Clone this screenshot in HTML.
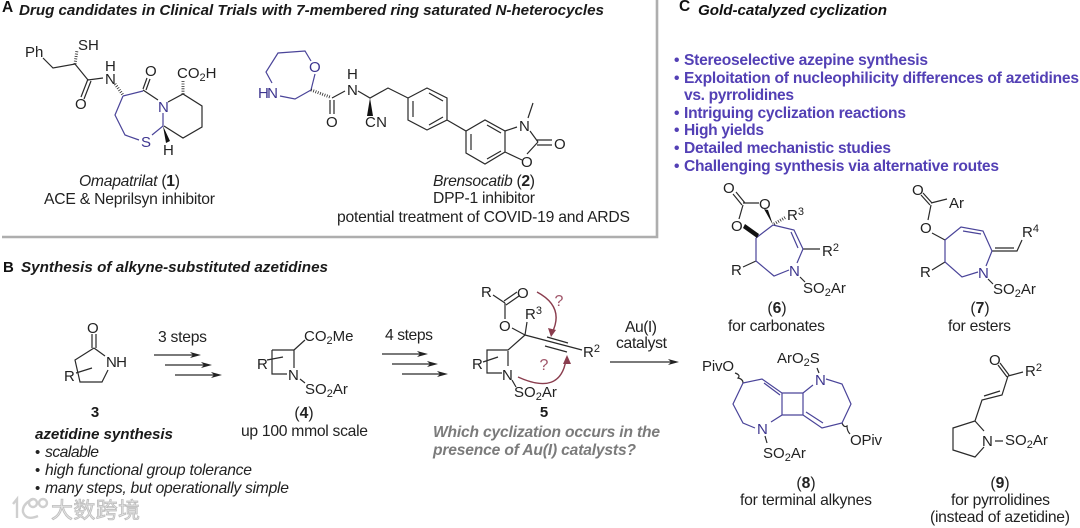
<!DOCTYPE html>
<html><head><meta charset="utf-8"><style>
html,body{margin:0;padding:0;background:#fff}
svg{display:block}
text{font-family:"Liberation Sans",sans-serif;font-size:15px;fill:#222}
.l{font-size:15.7px}
.c{text-anchor:middle}
.bi{font-weight:bold;font-style:italic;font-size:15.2px;fill:#1a1a1a}
.b{font-weight:bold;font-size:15px;fill:#1a1a1a}
.p{font-weight:bold;font-size:15.6px;fill:#5340b5}
.g{font-weight:bold;font-style:italic;font-size:15.6px;fill:#7b7b7b}
.u{fill:#3d358f}
.k{stroke:#2a2a2a;stroke-width:1.2;fill:none}
.v{stroke:#4a4499;stroke-width:1.2;fill:none}
.r{stroke:#8a3d4e;stroke-width:1.4;fill:none}
.q{fill:#a0566a;font-size:16px}
.h{stroke:#2a2a2a;stroke-width:3;stroke-dasharray:.8 1.6;fill:none}
.s{font-size:11px}
</style></head><body>
<svg width="1080" height="528" viewBox="0 0 1080 528" xmlns="http://www.w3.org/2000/svg">
<!-- panel A frame -->
<path d="M2 237H657V0" fill="none" stroke="#aeaeae" stroke-width="2.6"/>

<!-- titles -->
<text x="2" y="12" style="font-weight:bold;font-size:15.5px;fill:#111">A</text>
<text x="19" y="15" class="bi" textLength="585" lengthAdjust="spacing">Drug candidates in Clinical Trials with 7-membered ring saturated N-heterocycles</text>
<text x="3" y="272" style="font-weight:bold;font-size:15px;fill:#111">B</text>
<text x="21" y="272" class="bi" textLength="307" lengthAdjust="spacing">Synthesis of alkyne-substituted azetidines</text>
<text x="679" y="11" style="font-weight:bold;font-size:15.5px;fill:#111">C</text>
<text x="698" y="15" class="bi" textLength="189" lengthAdjust="spacing" style="fill:#111">Gold-catalyzed cyclization</text>

<!-- panel C bullets -->
<text x="674" y="65" class="p">•</text><text x="684" y="65" class="p" textLength="244" lengthAdjust="spacing">Stereoselective azepine synthesis</text>
<text x="674" y="83" class="p">•</text><text x="684" y="83" class="p" textLength="395" lengthAdjust="spacing">Exploitation of nucleophilicity differences of azetidines</text>
<text x="684" y="100" class="p" textLength="110" lengthAdjust="spacing">vs. pyrrolidines</text>
<text x="674" y="118" class="p">•</text><text x="684" y="118" class="p" textLength="222" lengthAdjust="spacing">Intriguing cyclization reactions</text>
<text x="674" y="135" class="p">•</text><text x="684" y="135" class="p" textLength="80" lengthAdjust="spacing">High yields</text>
<text x="674" y="153" class="p">•</text><text x="684" y="153" class="p" textLength="207" lengthAdjust="spacing">Detailed mechanistic studies</text>
<text x="674" y="171" class="p">•</text><text x="684" y="171" class="p" textLength="315" lengthAdjust="spacing">Challenging synthesis via alternative routes</text>

<!-- compound 1 -->
<text x="25" y="57">Ph</text>
<text x="78" y="50">SH</text>
<text x="75" y="109">O</text>
<text x="105" y="71">H</text>
<text x="105" y="84">N</text>
<text x="145" y="76">O</text>
<text x="177" y="78">CO<tspan dy="3" class="s">2</tspan><tspan dy="-3">H</tspan></text>
<text x="158" y="112" class="u">N</text>
<text x="141" y="147" class="u">S</text>
<text x="163" y="155">H</text>
<path class="k" d="M43 58L53 68L75 64L88 80L103 78M88 79L81 97M91 81L84 99M143 90L158 100M143 89L147 78M146 90L150 79M168 102L183 94L202 106V127L183 138L164 126"/>
<path class="v" d="M123 96L143 91M123 96L115 115L125 135L139 140M152 135L163 126V113"/>
<path d="M75 64L77 50" class="h"/>
<path d="M115 84L123 95" class="h"/>
<path d="M183 94V81" class="h"/>
<polygon points="163,126 166,143 170,141" fill="#111"/>
<text x="79" y="186" class="l" textLength="101" lengthAdjust="spacing"><tspan font-style="italic">Omapatrilat</tspan> (<tspan font-weight="bold">1</tspan>)</text>
<text x="44" y="204" class="l" textLength="171" lengthAdjust="spacing">ACE &amp; Neprilsyn inhibitor</text>

<!-- compound 2 -->
<text x="309" y="72" class="u">O</text>
<text x="258" y="98" class="u" textLength="20" lengthAdjust="spacing">HN</text>
<path class="v" d="M311 61L305 51L278 53L266 72L272 83M280 96L295 99L311 90L315 74"/>
<path d="M311 90L330 97" class="h"/>
<path class="k" d="M332 98L345 91M330 100V114M334 100V114M358 91L370 98L388 88L408 98M408 98L427 88L447 98V120L427 130L408 120V98M413 101V117M429 93L443 101M429 125L443 117M447 120L466 131L485 120L505 131V152L485 164L466 153V131M471 134V150M487 125L501 133M487 159L501 151M505 131L517 127M528 118L533 103M530 131L538 142M538 142L527 154M522 160L505 152M537 140H552M537 145H552"/>
<polygon points="370,98 367,116 373,116" fill="#111"/>
<text x="347" y="79">H</text>
<text x="347" y="95">N</text>
<text x="326" y="127">O</text>
<text x="365" y="127" textLength="22" lengthAdjust="spacing">CN</text>
<text x="519" y="131">N</text>
<text x="521" y="167">O</text>
<text x="554" y="149">O</text>
<text x="433" y="186" class="l" textLength="102" lengthAdjust="spacing"><tspan font-style="italic">Brensocatib</tspan> (<tspan font-weight="bold">2</tspan>)</text>
<text x="433" y="203" class="l" textLength="102" lengthAdjust="spacing">DPP-1 inhibitor</text>
<text x="337" y="222" class="l" textLength="293" lengthAdjust="spacing">potential treatment of COVID-19 and ARDS</text>

<!-- compound 3 -->
<text x="87" y="333">O</text>
<text x="106" y="367" textLength="21" lengthAdjust="spacing">NH</text>
<text x="64" y="381">R</text>
<path class="k" d="M92 334V348M96 334V348M94 348L105 356M94 348L75 360L80 382H102L108 370M76 373L92 368"/>
<text x="95" y="417" class="b c">3</text>

<!-- arrows 3 steps -->
<text x="158" y="342" class="l" textLength="49" lengthAdjust="spacing">3 steps</text>
<g class="k"><path d="M154 355H194M165 365H205M175 375H215"/></g>
<g fill="#222"><polygon points="201,355 190,352 193,355 190,358"/><polygon points="212,365 201,362 204,365 201,368"/><polygon points="222,375 211,372 214,375 211,378"/></g>

<!-- compound 4 -->
<text x="257" y="369">R</text>
<text x="304" y="341">CO<tspan dy="3" class="s">2</tspan><tspan dy="-3">Me</tspan></text>
<text x="288" y="380">N</text>
<text x="305" y="394">SO<tspan dy="3" class="s">2</tspan><tspan dy="-3">Ar</tspan></text>
<path class="k" d="M272 350H294V368M272 350V374H287M294 350L305 340M267 360L283 357M300 379L305 383"/>
<text x="304" y="418" class="c l"><tspan>(</tspan><tspan font-weight="bold">4</tspan><tspan>)</tspan></text>
<text x="241" y="436" class="l" textLength="127" lengthAdjust="spacing">up 100 mmol scale</text>

<!-- azetidine list -->
<text x="35" y="439" class="bi" textLength="138" lengthAdjust="spacing">azetidine synthesis</text>
<text x="35" y="457">•</text><text x="45" y="457" class="l" font-style="italic" textLength="54" lengthAdjust="spacing">scalable</text>
<text x="35" y="475">•</text><text x="45" y="475" class="l" font-style="italic" textLength="207" lengthAdjust="spacing">high functional group tolerance</text>
<text x="35" y="493">•</text><text x="45" y="493" class="l" font-style="italic" textLength="244" lengthAdjust="spacing">many steps, but operationally simple</text>

<!-- arrows 4 steps -->
<text x="385" y="340" class="l" textLength="48" lengthAdjust="spacing">4 steps</text>
<g class="k"><path d="M382 354H421M392 364H431M402 374H441"/></g>
<g fill="#222"><polygon points="428,354 417,351 420,354 417,357"/><polygon points="438,364 427,361 430,364 427,367"/><polygon points="448,374 437,371 440,374 437,377"/></g>

<!-- compound 5 -->
<text x="481" y="297">R</text>
<text x="517" y="298">O</text>
<text x="499" y="331">O</text>
<text x="525" y="319">R<tspan dy="-5" class="s">3</tspan></text>
<text x="583" y="357">R<tspan dy="-5" class="s">2</tspan></text>
<text x="472" y="369">R</text>
<text x="502" y="380">N</text>
<text x="514" y="397">SO<tspan dy="3" class="s">2</tspan><tspan dy="-3">Ar</tspan></text>
<text x="544" y="417" class="b c">5</text>
<path class="k" d="M493 295L505 303M504 301L517 292M506 305L519 296M505 303V319M512 328L525 335M527 322L525 335L582 350M547 337L568 343M545 346L567 352M525 335L508 350H487V373H502M508 351V366M483 362L498 357M512 380L516 387"/>
<path class="r" d="M537 292Q565 307 552 333M518 377Q560 396 566 360"/>
<polygon points="551,337 548,328 556,330" fill="#8a3d4e"/>
<polygon points="567,355 563,364 571,364" fill="#8a3d4e"/>
<text x="559" y="306" class="q c">?</text>
<text x="544" y="370" class="q c">?</text>

<text x="433" y="437" class="g" textLength="227" lengthAdjust="spacing">Which cyclization occurs in the</text>
<text x="433" y="455" class="g" textLength="203" lengthAdjust="spacing">presence of Au(I) catalysts?</text>

<!-- Au arrow -->
<text x="625" y="332" class="l" textLength="32" lengthAdjust="spacing">Au(I)</text>
<text x="616" y="348" class="l" textLength="51" lengthAdjust="spacing">catalyst</text>
<path class="k" d="M610 362H672"/>
<polygon points="679,362 668,359 671,362 668,365" fill="#222"/>

<!-- compound 6 -->
<text x="723" y="193">O</text>
<text x="759" y="209">O</text>
<text x="731" y="231">O</text>
<text x="787" y="220">R<tspan dy="-5" class="s">3</tspan></text>
<text x="822" y="256">R<tspan dy="-5" class="s">2</tspan></text>
<text x="731" y="275">R</text>
<text x="789" y="276" class="u">N</text>
<text x="803" y="293">SO<tspan dy="3" class="s">2</tspan><tspan dy="-3">Ar</tspan></text>
<path class="k" d="M733 194L742 205M736 192L745 203M743 203L759 203M743 205L739 219M803 249H820M743 267L756 261M800 277L805 282"/>
<path class="v" d="M773 225L794 230L803 249L797 263M789 270L774 276L756 261V238M773 225L756 238M791 232L798 248"/>
<polygon points="743,228 757,238 759,234 745,224" fill="#111"/>
<polygon points="764,209 773,225 768,210" fill="#111"/>
<path d="M774 224L786 217" class="h"/>
<text x="777" y="313" class="c l"><tspan>(</tspan><tspan font-weight="bold">6</tspan><tspan>)</tspan></text>
<text x="728" y="331" class="l" textLength="97" lengthAdjust="spacing">for carbonates</text>

<!-- compound 7 -->
<text x="912" y="195">O</text>
<text x="920" y="233">O</text>
<text x="949" y="208">Ar</text>
<text x="1022" y="237">R<tspan dy="-5" class="s">4</tspan></text>
<text x="920" y="277">R</text>
<text x="978" y="278" class="u">N</text>
<text x="993" y="294">SO<tspan dy="3" class="s">2</tspan><tspan dy="-3">Ar</tspan></text>
<path class="k" d="M921 195L930 205M923 193L932 203M931 203L947 199M931 205L928 220M932 233L945 240M992 251H1017L1022 240M995 248H1014M932 270L945 262M988 279L993 284"/>
<path class="v" d="M945 240L961 227L983 231L992 251L986 266M978 272L962 277L945 262V240M963 231L981 234"/>
<text x="980" y="313" class="c l"><tspan>(</tspan><tspan font-weight="bold">7</tspan><tspan>)</tspan></text>
<text x="948" y="331" class="l" textLength="63" lengthAdjust="spacing">for esters</text>

<!-- compound 8 -->
<text x="702" y="371" textLength="32" lengthAdjust="spacing">PivO</text>
<text x="777" y="363">ArO<tspan dy="3" class="s">2</tspan><tspan dy="-3">S</tspan></text>
<text x="815" y="385" class="u">N</text>
<text x="757" y="434" class="u">N</text>
<text x="763" y="458">SO<tspan dy="3" class="s">2</tspan><tspan dy="-3">Ar</tspan></text>
<text x="850" y="445" textLength="32" lengthAdjust="spacing">OPiv</text>
<path class="k" d="M735 373Q741 375 738 378Q743 379 743 383M842 423Q844 428 847 426Q847 431 850 434M817 368L819 373M765 436L767 443"/>
<path class="v" d="M743 383L762 379L782 393V415L771 422M755 428L743 423L733 404L743 383M764 383L780 395M782 393H803V415H782M803 393L813 385M826 379L842 384L851 404L842 423L822 428L803 415M806 412L823 423"/>
<text x="806" y="488" class="c l"><tspan>(</tspan><tspan font-weight="bold">8</tspan><tspan>)</tspan></text>
<text x="740" y="505" class="l" textLength="132" lengthAdjust="spacing">for terminal alkynes</text>

<!-- compound 9 -->
<text x="989" y="365">O</text>
<text x="1025" y="376">R<tspan dy="-5" class="s">2</tspan></text>
<text x="982" y="446">N</text>
<text x="1005" y="445">SO<tspan dy="3" class="s">2</tspan><tspan dy="-3">Ar</tspan></text>
<path class="k" d="M998 365L1007 377M1000 363L1009 375M1008 376L1023 372M1008 376L1002 395L982 400L975 421L953 428V450L975 457L984 447M975 421L984 431M1000 391L984 396M995 441H1003"/>
<text x="1000" y="488" class="c l"><tspan>(</tspan><tspan font-weight="bold">9</tspan><tspan>)</tspan></text>
<text x="951" y="505" class="l" textLength="99" lengthAdjust="spacing">for pyrrolidines</text>
<text x="930" y="522" class="l" textLength="140" lengthAdjust="spacing">(instead of azetidine)</text>

<!-- watermark -->
<g fill="none" stroke="#cfcfcf" stroke-width="2.4">
<path d="M13 504L17 499V518"/>
<path d="M33 499Q22 504 23 512Q26 521 38 516"/>
<circle cx="33" cy="503" r="4"/><circle cx="43" cy="503" r="4"/>
</g>
<text x="51" y="518" textLength="89" lengthAdjust="spacing" style="font-family:'Liberation Sans','Noto Sans CJK SC',sans-serif;font-size:22px;fill:#e4e4e4;stroke:#bdbdbd;stroke-width:.8">大数跨境</text>
</svg>
</body></html>
